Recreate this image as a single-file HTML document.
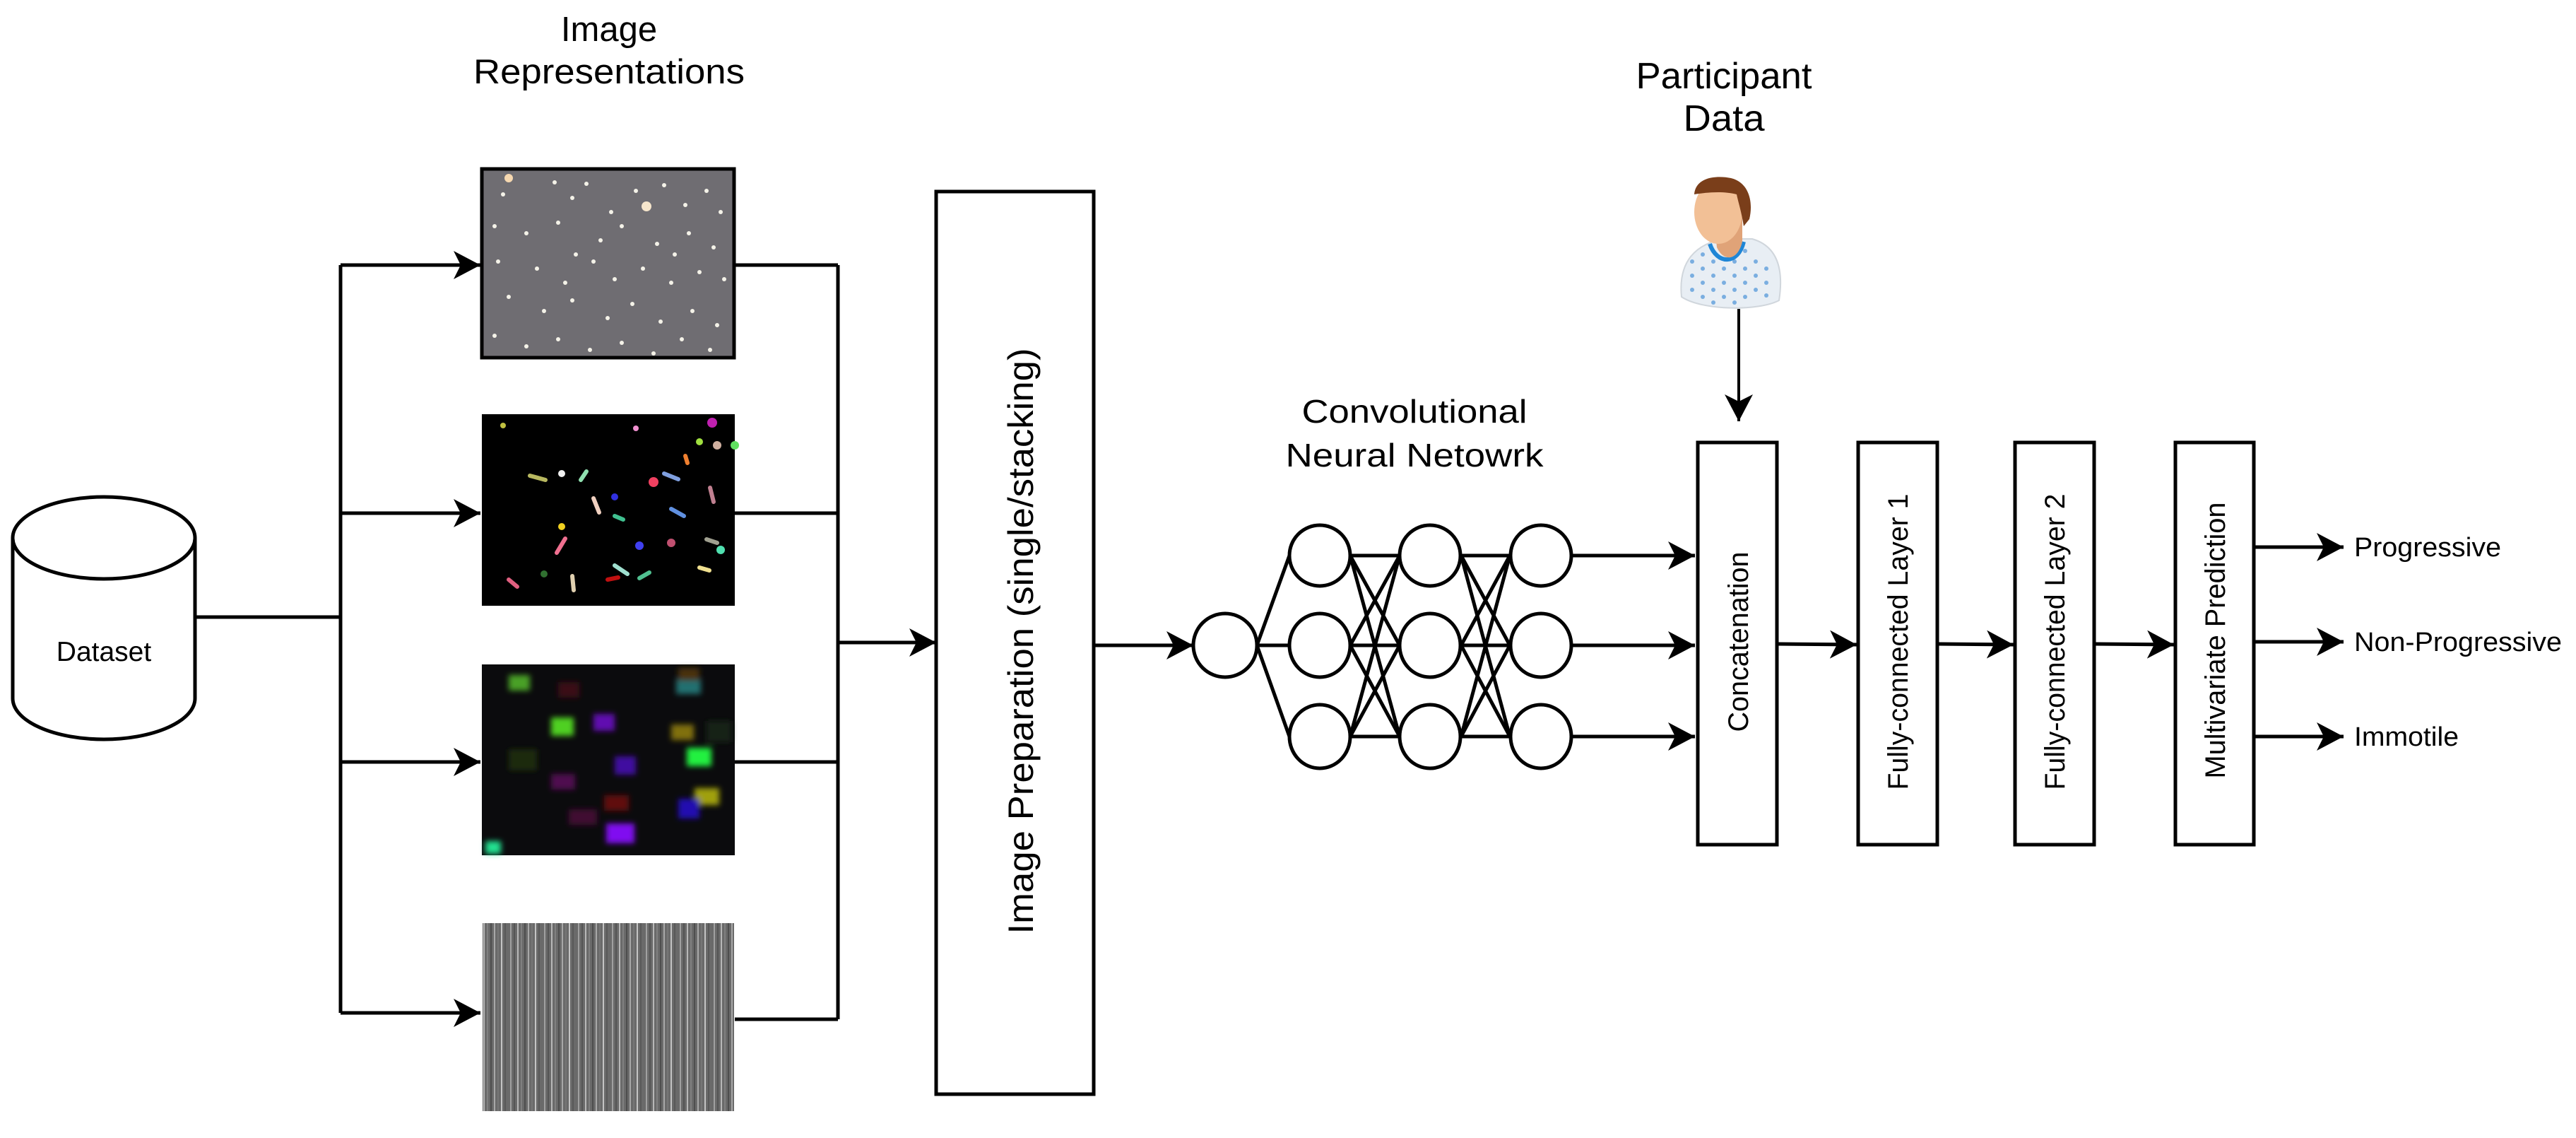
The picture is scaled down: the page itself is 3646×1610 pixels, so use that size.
<!DOCTYPE html>
<html><head><meta charset="utf-8"><style>
html,body{margin:0;padding:0;background:#fff;}
svg{display:block;}
text{font-family:"Liberation Sans",Arial,sans-serif;fill:#000;}
</style></head><body>
<svg width="3646" height="1610" viewBox="0 0 3646 1610" xmlns="http://www.w3.org/2000/svg">
<defs>
<marker id="a" markerUnits="userSpaceOnUse" markerWidth="40" markerHeight="42" refX="38" refY="20" orient="auto">
<path d="M0,0 L38,20 L0,40 L10,20 Z" fill="#000"/>
</marker>
<pattern id="streak" width="48" height="270" patternUnits="userSpaceOnUse">
<rect width="48" height="270" fill="#6a6a6a"/>
<rect x="2" width="2" height="270" fill="#a0a0a0"/>
<rect x="7" width="2" height="270" fill="#555"/>
<rect x="12" width="2" height="270" fill="#b8b8b8"/>
<rect x="17" width="2" height="270" fill="#808080"/>
<rect x="22" width="2" height="270" fill="#4e4e4e"/>
<rect x="27" width="2" height="270" fill="#a8a8a8"/>
<rect x="32" width="2" height="270" fill="#767676"/>
<rect x="37" width="2" height="270" fill="#c4c4c4"/>
<rect x="42" width="2" height="270" fill="#595959"/>
</pattern>
<filter id="bl"><feGaussianBlur stdDeviation="4"/></filter>
</defs>

<!-- titles -->
<text x="862" y="58" font-size="49" text-anchor="middle">Image</text>
<text x="862" y="118" font-size="49" text-anchor="middle" textLength="384" lengthAdjust="spacingAndGlyphs">Representations</text>
<text x="2440" y="125" font-size="52" text-anchor="middle" textLength="249" lengthAdjust="spacingAndGlyphs">Participant</text>
<text x="2440" y="185" font-size="52" text-anchor="middle" textLength="115" lengthAdjust="spacingAndGlyphs">Data</text>
<text x="2002" y="598" font-size="46" text-anchor="middle" textLength="319" lengthAdjust="spacingAndGlyphs">Convolutional</text>
<text x="2002" y="660" font-size="46" text-anchor="middle" textLength="365" lengthAdjust="spacingAndGlyphs">Neural Netowrk</text>

<!-- cylinder -->
<g fill="#fff" stroke="#000" stroke-width="5">
<path d="M18,761 L18,988 A129,58 0 0 0 276,988 L276,761"/>
<ellipse cx="147" cy="761" rx="129" ry="58"/>
</g>
<text x="147" y="935" font-size="39" text-anchor="middle">Dataset</text>

<!-- branch lines -->
<g stroke="#000" stroke-width="5" fill="none">
<line x1="276" y1="873" x2="482" y2="873"/>
<line x1="482" y1="375" x2="482" y2="1433"/>
<line x1="482" y1="375" x2="680" y2="375" marker-end="url(#a)"/>
<line x1="482" y1="726" x2="680" y2="726" marker-end="url(#a)"/>
<line x1="482" y1="1078" x2="680" y2="1078" marker-end="url(#a)"/>
<line x1="482" y1="1433" x2="680" y2="1433" marker-end="url(#a)"/>
<line x1="1040" y1="375" x2="1186" y2="375"/>
<line x1="1040" y1="726" x2="1186" y2="726"/>
<line x1="1040" y1="1078" x2="1186" y2="1078"/>
<line x1="1040" y1="1442" x2="1186" y2="1442"/>
<line x1="1186" y1="375" x2="1186" y2="1442"/>
<line x1="1186" y1="909" x2="1325" y2="909" marker-end="url(#a)"/>
</g>

<!-- image 1 -->
<rect x="682" y="239" width="357" height="267" fill="#6f6d72" stroke="#000" stroke-width="5"/>
<g fill="#f4f2e8">
<circle cx="720" cy="252" r="6" fill="#f6d8b0"/><circle cx="915" cy="292" r="7" fill="#f6e6cc"/>
<circle cx="712" cy="275" r="3"/><circle cx="785" cy="258" r="3"/><circle cx="810" cy="280" r="3"/>
<circle cx="830" cy="260" r="3"/><circle cx="865" cy="300" r="3"/><circle cx="900" cy="270" r="3"/>
<circle cx="940" cy="262" r="3"/><circle cx="970" cy="290" r="3"/><circle cx="1000" cy="270" r="3"/>
<circle cx="1020" cy="300" r="3"/><circle cx="700" cy="320" r="3"/><circle cx="745" cy="330" r="3"/>
<circle cx="790" cy="315" r="3"/><circle cx="850" cy="340" r="3"/><circle cx="880" cy="320" r="3"/>
<circle cx="930" cy="345" r="3"/><circle cx="975" cy="330" r="3"/><circle cx="1010" cy="350" r="3"/>
<circle cx="705" cy="370" r="3"/><circle cx="760" cy="380" r="3"/><circle cx="800" cy="400" r="3"/>
<circle cx="840" cy="370" r="3"/><circle cx="870" cy="395" r="3"/><circle cx="910" cy="380" r="3"/>
<circle cx="950" cy="400" r="3"/><circle cx="990" cy="385" r="3"/><circle cx="1025" cy="395" r="3"/>
<circle cx="720" cy="420" r="3"/><circle cx="770" cy="440" r="3"/><circle cx="810" cy="425" r="3"/>
<circle cx="860" cy="450" r="3"/><circle cx="895" cy="430" r="3"/><circle cx="935" cy="455" r="3"/>
<circle cx="980" cy="440" r="3"/><circle cx="1015" cy="460" r="3"/><circle cx="700" cy="475" r="3"/>
<circle cx="745" cy="490" r="3"/><circle cx="790" cy="480" r="3"/><circle cx="835" cy="495" r="3"/>
<circle cx="880" cy="485" r="3"/><circle cx="925" cy="500" r="3"/><circle cx="965" cy="480" r="3"/>
<circle cx="1005" cy="495" r="3"/><circle cx="815" cy="360" r="3"/><circle cx="955" cy="360" r="3"/>
</g>

<!-- image 2 -->
<rect x="682" y="586" width="358" height="271" fill="#000"/>
<g stroke-width="6" stroke-linecap="round" fill="none">
<path d="M750,673 l22,6" stroke="#b8b860"/><path d="M830,667 l-8,12" stroke="#90e0b0"/>
<path d="M840,705 l8,20" stroke="#f0d0c0"/><path d="M870,730 l12,5" stroke="#40c090"/>
<path d="M940,670 l20,8" stroke="#80a0e0"/><path d="M950,720 l18,10" stroke="#6090e0"/>
<path d="M788,782 l12,-20" stroke="#f07090"/><path d="M870,800 l18,12" stroke="#a0e0d0"/>
<path d="M905,818 l14,-8" stroke="#50c090"/><path d="M1005,690 l5,20" stroke="#c08090"/>
<path d="M720,820 l12,10" stroke="#e06080"/><path d="M810,815 l2,20" stroke="#e0d0b0"/>
<path d="M860,820 l15,-3" stroke="#c01010"/><path d="M970,645 l3,10" stroke="#f08030"/>
<path d="M1000,763 l15,5" stroke="#a0a090"/><path d="M990,803 l14,4" stroke="#f0e090"/>
</g>
<g>
<circle cx="1008" cy="598" r="7" fill="#c020b0"/><circle cx="1015" cy="630" r="6" fill="#d0b0a0"/>
<circle cx="1040" cy="630" r="6" fill="#60e060"/><circle cx="990" cy="625" r="5" fill="#a0e040"/>
<circle cx="795" cy="670" r="5" fill="#f0f0f0"/><circle cx="870" cy="703" r="5" fill="#3030e0"/>
<circle cx="925" cy="682" r="7" fill="#f04060"/><circle cx="795" cy="745" r="5" fill="#f0d020"/>
<circle cx="905" cy="772" r="6" fill="#4040f0"/><circle cx="1020" cy="778" r="6" fill="#50e0b0"/>
<circle cx="950" cy="768" r="6" fill="#c05070"/><circle cx="770" cy="812" r="5" fill="#307030"/>
<circle cx="900" cy="606" r="4" fill="#f090d0"/><circle cx="712" cy="602" r="4" fill="#c0c040"/>
</g>

<!-- image 3 -->
<rect x="682" y="940" width="358" height="270" fill="#0b0b0d"/>
<g filter="url(#bl)">
<rect x="720" y="955" width="30" height="22" fill="#4aa028"/>
<rect x="790" y="965" width="30" height="22" fill="#3a1018"/>
<rect x="957" y="960" width="35" height="22" fill="#207070"/>
<rect x="960" y="945" width="30" height="18" fill="#4a3010"/>
<rect x="780" y="1015" width="32" height="26" fill="#50d020"/>
<rect x="840" y="1010" width="30" height="24" fill="#6010b0"/>
<rect x="950" y="1025" width="32" height="22" fill="#807010"/>
<rect x="972" y="1058" width="35" height="26" fill="#20f040"/>
<rect x="870" y="1070" width="30" height="26" fill="#4010a0"/>
<rect x="780" y="1095" width="34" height="22" fill="#500a50"/>
<rect x="983" y="1115" width="35" height="24" fill="#a0a010"/>
<rect x="855" y="1125" width="35" height="22" fill="#601010"/>
<rect x="960" y="1130" width="30" height="28" fill="#2010b0"/>
<rect x="858" y="1165" width="40" height="28" fill="#8010f0"/>
<rect x="687" y="1190" width="22" height="18" fill="#20e090"/>
<rect x="805" y="1145" width="40" height="22" fill="#400a30"/>
<rect x="720" y="1060" width="40" height="30" fill="#1a2a10"/>
<rect x="1000" y="1020" width="35" height="30" fill="#142014"/>
</g>

<!-- image 4 -->
<rect x="683" y="1306" width="356" height="266" fill="url(#streak)"/>

<!-- image prep box -->
<rect x="1325" y="271" width="223" height="1277" fill="#fff" stroke="#000" stroke-width="5"/>
<text x="0" y="0" font-size="50" text-anchor="middle" dominant-baseline="central" transform="translate(1445,907) rotate(-90)" textLength="829" lengthAdjust="spacingAndGlyphs">Image Preparation (single/stacking)</text>

<!-- NN -->
<g stroke="#000" stroke-width="5" fill="none">
<line x1="1548" y1="913" x2="1689" y2="913" marker-end="url(#a)"/>
<line x1="1779" y1="913" x2="1825" y2="786"/>
<line x1="1779" y1="913" x2="1825" y2="913"/>
<line x1="1779" y1="913" x2="1825" y2="1042"/>
<g>
<line x1="1911" y1="786" x2="1981" y2="786"/><line x1="1911" y1="786" x2="1981" y2="913"/><line x1="1911" y1="786" x2="1981" y2="1042"/>
<line x1="1911" y1="913" x2="1981" y2="786"/><line x1="1911" y1="913" x2="1981" y2="913"/><line x1="1911" y1="913" x2="1981" y2="1042"/>
<line x1="1911" y1="1042" x2="1981" y2="786"/><line x1="1911" y1="1042" x2="1981" y2="913"/><line x1="1911" y1="1042" x2="1981" y2="1042"/>
</g>
<g>
<line x1="2068" y1="786" x2="2137" y2="786"/><line x1="2068" y1="786" x2="2137" y2="913"/><line x1="2068" y1="786" x2="2137" y2="1042"/>
<line x1="2068" y1="913" x2="2137" y2="786"/><line x1="2068" y1="913" x2="2137" y2="913"/><line x1="2068" y1="913" x2="2137" y2="1042"/>
<line x1="2068" y1="1042" x2="2137" y2="786"/><line x1="2068" y1="1042" x2="2137" y2="913"/><line x1="2068" y1="1042" x2="2137" y2="1042"/>
</g>
<line x1="2224" y1="786" x2="2399" y2="786" marker-end="url(#a)"/>
<line x1="2224" y1="913" x2="2399" y2="913" marker-end="url(#a)"/>
<line x1="2224" y1="1042" x2="2399" y2="1042" marker-end="url(#a)"/>
</g>
<g fill="#fff" stroke="#000" stroke-width="5">
<ellipse cx="1734" cy="913" rx="45" ry="45"/>
<ellipse cx="1868" cy="786" rx="43" ry="43"/><ellipse cx="1868" cy="913" rx="43" ry="45"/><ellipse cx="1868" cy="1042" rx="43" ry="45"/>
<ellipse cx="2024" cy="786" rx="43" ry="43"/><ellipse cx="2024" cy="913" rx="43" ry="45"/><ellipse cx="2024" cy="1042" rx="43" ry="45"/>
<ellipse cx="2181" cy="786" rx="43" ry="43"/><ellipse cx="2181" cy="913" rx="43" ry="45"/><ellipse cx="2181" cy="1042" rx="43" ry="45"/>
</g>

<!-- person -->
<g>
<path d="M2380,420 C2375,370 2400,345 2440,338 L2480,338 C2515,348 2525,380 2518,425 C2490,440 2410,440 2380,420 Z" fill="#e8eef4" stroke="#d0d6dc" stroke-width="2"/>
<g fill="#7aaee0">
<circle cx="2395" cy="370" r="3"/><circle cx="2395" cy="390" r="3"/><circle cx="2395" cy="410" r="3"/>
<circle cx="2410" cy="360" r="3"/><circle cx="2410" cy="380" r="3"/><circle cx="2410" cy="400" r="3"/><circle cx="2410" cy="420" r="3"/>
<circle cx="2425" cy="370" r="3"/><circle cx="2425" cy="390" r="3"/><circle cx="2425" cy="410" r="3"/><circle cx="2425" cy="428" r="3"/>
<circle cx="2440" cy="380" r="3"/><circle cx="2440" cy="400" r="3"/><circle cx="2440" cy="420" r="3"/>
<circle cx="2455" cy="370" r="3"/><circle cx="2455" cy="390" r="3"/><circle cx="2455" cy="410" r="3"/><circle cx="2455" cy="428" r="3"/>
<circle cx="2470" cy="355" r="3"/><circle cx="2470" cy="380" r="3"/><circle cx="2470" cy="400" r="3"/><circle cx="2470" cy="420" r="3"/>
<circle cx="2485" cy="370" r="3"/><circle cx="2485" cy="390" r="3"/><circle cx="2485" cy="410" r="3"/>
<circle cx="2500" cy="380" r="3"/><circle cx="2500" cy="400" r="3"/><circle cx="2500" cy="418" r="3"/>
</g>
<path d="M2420,345 C2430,375 2460,375 2468,342" fill="none" stroke="#1f86d6" stroke-width="6"/>
<path d="M2425,300 L2430,350 C2440,372 2460,368 2466,342 L2466,300 Z" fill="#e0a378"/>
<ellipse cx="2432" cy="300" rx="34" ry="45" fill="#f2c096"/>
<path d="M2398,275 C2400,250 2430,248 2450,252 C2475,258 2482,285 2476,310 L2468,320 C2465,300 2460,285 2458,275 C2440,270 2415,272 2398,275 Z" fill="#7a3e1a"/>
</g>
<line x1="2461" y1="437" x2="2461" y2="596" stroke="#000" stroke-width="4" marker-end="url(#a)"/>

<!-- layer boxes -->
<g fill="#fff" stroke="#000" stroke-width="5">
<rect x="2403" y="626" width="112" height="569"/>
<rect x="2630" y="626" width="112" height="569"/>
<rect x="2852" y="626" width="112" height="569"/>
<rect x="3079" y="626" width="111" height="569"/>
</g>
<g stroke="#000" stroke-width="5">
<line x1="2515" y1="911" x2="2628" y2="912" marker-end="url(#a)"/>
<line x1="2742" y1="911" x2="2850" y2="912" marker-end="url(#a)"/>
<line x1="2964" y1="911" x2="3077" y2="912" marker-end="url(#a)"/>
<line x1="3190" y1="774" x2="3317" y2="774" marker-end="url(#a)"/>
<line x1="3190" y1="908" x2="3317" y2="908" marker-end="url(#a)"/>
<line x1="3190" y1="1042" x2="3317" y2="1042" marker-end="url(#a)"/>
</g>
<g font-size="40" text-anchor="middle" dominant-baseline="central">
<text transform="translate(2461,908) rotate(-90)" textLength="255" lengthAdjust="spacingAndGlyphs">Concatenation</text>
<text transform="translate(2687,908) rotate(-90)" textLength="419" lengthAdjust="spacingAndGlyphs">Fully-connected Layer 1</text>
<text transform="translate(2909,908) rotate(-90)" textLength="419" lengthAdjust="spacingAndGlyphs">Fully-connected Layer 2</text>
<text transform="translate(3136,906) rotate(-90)" textLength="391" lengthAdjust="spacingAndGlyphs">Multivariate Prediction</text>
</g>
<g font-size="38">
<text x="3332" y="787" textLength="208" lengthAdjust="spacingAndGlyphs">Progressive</text>
<text x="3332" y="921" textLength="294" lengthAdjust="spacingAndGlyphs">Non-Progressive</text>
<text x="3332" y="1055" textLength="148" lengthAdjust="spacingAndGlyphs">Immotile</text>
</g>
</svg>
</body></html>
